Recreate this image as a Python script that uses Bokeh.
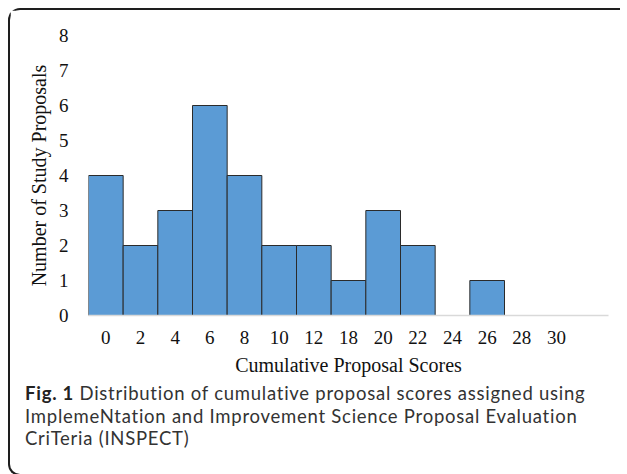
from bokeh.plotting import figure
from bokeh.models import FixedTicker, Range1d, Div, ColumnDataSource
from bokeh.layouts import column
from bokeh.embed import file_html
from bokeh.resources import INLINE

score_labels = ["0", "2", "4", "6", "8", "10", "12", "18", "20", "22", "24", "26", "28", "30"]
counts = [4, 2, 3, 6, 4, 2, 2, 1, 3, 2, 0, 1, 0, 0]
y_ticks = [0, 1, 2, 3, 4, 5, 6, 7, 8]

x_title = "Cumulative Proposal Scores"
y_title = "Number of Study Proposals"
caption_bold = "Fig. 1"
caption_lines = [
    "Distribution of cumulative proposal scores assigned using",
    "ImplemeNtation and Improvement Science Proposal Evaluation",
    "CriTeria (INSPECT)",
]

xs = [i for i, c in enumerate(counts) if c > 0]
tops = [c for c in counts if c > 0]
src = ColumnDataSource(dict(x=xs, top=tops))

p = figure(width=609, height=370, output_backend="svg", toolbar_location=None,
           x_range=Range1d(-0.5, 14.5), y_range=Range1d(0, 8),
           min_border_left=78, min_border_right=11, min_border_top=25, min_border_bottom=65)
p.outline_line_color = None
p.grid.grid_line_color = None

p.vbar(x="x", top="top", width=1, source=src, fill_color="#5b9bd5",
       line_color="#2b2b2b", line_width=1)

serif = "Liberation Serif"
p.xaxis.ticker = FixedTicker(ticks=list(range(len(score_labels))))
p.xaxis.major_label_overrides = {i: s for i, s in enumerate(score_labels)}
p.xaxis.axis_line_color = "#d9d9d9"
p.xaxis.axis_line_width = 1.5
p.xaxis.major_tick_line_color = None
p.xaxis.minor_tick_line_color = None
p.xaxis.major_label_standoff = 9
p.xaxis.axis_label = x_title
p.xaxis.axis_label_standoff = 7

p.yaxis.ticker = FixedTicker(ticks=y_ticks)
p.yaxis.axis_line_color = None
p.yaxis.major_tick_line_color = None
p.yaxis.minor_tick_line_color = None
p.yaxis.major_label_standoff = 14
p.yaxis.axis_label = y_title
p.yaxis.axis_label_standoff = 6

for ax in (p.xaxis[0], p.yaxis[0]):
    ax.major_label_text_font = serif
    ax.major_label_text_font_size = "19px"
    ax.major_label_text_color = "#111111"
    ax.axis_label_text_font = serif
    ax.axis_label_text_font_size = "20px"
    ax.axis_label_text_font_style = "normal"
    ax.axis_label_text_color = "#111111"

html = "<b style='color:#222'>" + caption_bold + "</b> " + "<br>".join(caption_lines)
cap = Div(text=html, width=600, height=84,
          styles={"font-family": "Lato", "font-size": "18.5px", "letter-spacing": "0.75px",
                  "line-height": "22.5px", "color": "#333333", "white-space": "nowrap",
                  "padding-left": "10px", "padding-top": "0px",
                  "position": "relative", "top": "-3px"})

layout = column(p, cap, spacing=0,
                styles={"border-left": "2px solid #1e1e1e", "border-top": "2px solid #1e1e1e",
                        "border-bottom": "2px solid #1e1e1e",
                        "border-radius": "12px 0 0 12px", "background": "white",
                        "margin": "8px"})

open("out.html", "w").write(file_html(layout, INLINE))
